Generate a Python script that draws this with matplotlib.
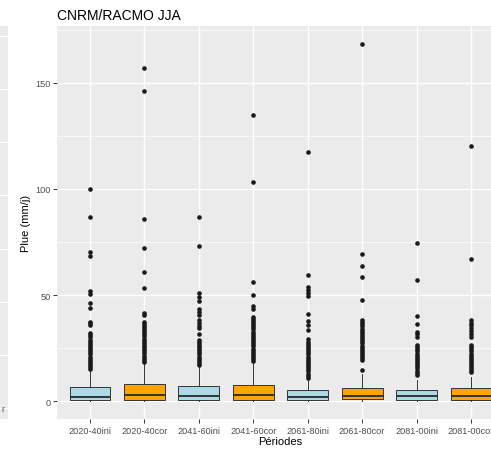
import matplotlib.pyplot as plt
import numpy as np

plt.rcParams['font.family'] = ['Liberation Sans', 'DejaVu Sans']

# périodes et couleurs (ini = bleu clair, cor = orange)
periodes = ['2020-40ini', '2020-40cor', '2041-60ini', '2041-60cor',
            '2061-80ini', '2061-80cor', '2081-00ini', '2081-00cor']
couleurs = ['#ADD8E6', '#FFA500', '#ADD8E6', '#FFA500',
            '#ADD8E6', '#FFA500', '#ADD8E6', '#FFA500']

# statistiques des boites [mm/j]
q1 = [0.5, 0.5, 0.6, 0.6, 0.6, 0.8, 0.6, 0.6]
mediane = [2.0, 3.0, 2.2, 3.1, 2.0, 2.3, 2.2, 2.2]
q3 = [6.8, 8.1, 7.0, 7.8, 5.4, 6.3, 5.4, 6.0]
moust_bas = [0, 0, 0, 0, 0, 0, 0, 0]
moust_haut = [14.6, 17.8, 16.4, 17.8, 10.1, 13.0, 10.1, 11.5]

# valeurs extremes
extremes = [
    [99.9, 86.9, 70.3, 68.5, 51.9, 50.5, 46.0, 43.7, 37.4, 36.6, 35.8,
     31.9, 31, 30, 29, 28, 27, 26, 25, 24, 23, 22, 21, 20, 19, 18, 17, 16, 15.2],
    [156.9, 145.9, 86.0, 72.0, 61.0, 53.2, 41.6, 40.5,
     37.4, 36.5, 35.5, 34.5, 33.5, 32.5, 31.5, 30.5, 29.5, 28.5, 27.5, 26.5,
     25.5, 24.5, 23.5, 22.5, 21.5, 20.5, 19.5, 18.5],
    [86.9, 73.0, 50.8, 49.2, 47.1, 43.4, 42.0, 40.6, 38.2, 37.0, 35.6, 34.4,
     31.4, 29, 28, 27, 26, 25, 24, 23, 22, 21, 20, 19, 18, 17],
    [134.9, 103.2, 56.0, 50.2, 44.8, 43.3,
     39.8, 38.8, 37.8, 36.8, 35.8, 34.8, 33.8, 32.8, 31.8, 30.8, 29.8, 28.8,
     27.8, 26.8, 25.8, 24.8, 23.8, 22.8, 21.8, 20.8, 19.8, 18.8],
    [117.3, 59.2, 53.7, 52.2, 50.8, 49.4, 41.1, 37.6, 36.0, 33.3,
     29.1, 28, 27, 26, 25, 24, 23, 22, 21, 20, 19, 18, 17, 16, 15, 14, 13, 12, 11],
    [168.3, 69.2, 63.8, 58.7, 47.7,
     38.2, 37.2, 36.2, 35.2, 34.2, 33.2, 32.2, 31.2, 30.2, 29.2, 28.2, 27.2,
     26.2, 25.2, 24.2, 23.2, 22.2, 21.2, 20.2, 19.3, 14.9],
    [74.4, 57.1, 40.1, 36.3, 32.7, 31.5, 30.3,
     26.4, 25.4, 24.4, 23.4, 22.4, 21.4, 20.4, 19.4, 18.4, 17.4, 16.4, 15.4,
     14.4, 13.4, 12.3],
    [120.4, 66.8, 38.2, 37.0, 35.8, 34.5, 33.0, 31.5, 30.3,
     26.4, 25.4, 24.4, 23.4, 22.4, 21.4, 20.4, 19.4, 18.4, 17.4, 16.4, 15.4,
     14.6, 13.8],
]

W, H = 491, 452
fig = plt.figure(figsize=(W / 100, H / 100), dpi=100)

# bout du panneau voisin (coupé à gauche)
axg = fig.add_axes([0, (H - 420) / H, 7.5 / W, (420 - 27) / H])
axg.set_facecolor('#EBEBEB')
axg.set_xlim(0, 1)
axg.set_ylim(420, 27)
for yy in [37, 90, 143, 196, 250, 303, 356, 409]:
    axg.axhline(yy, color='white', lw=0.8)
axg.set_xticks([])
axg.set_yticks([])
for s in axg.spines.values():
    s.set_visible(False)

# panneau principal (déborde à droite comme dans l'original)
x0, x1 = 57.4, 503.6
ax = fig.add_axes([x0 / W, (H - 420) / H, (x1 - x0) / W, (420 - 27) / H])
ax.set_facecolor('#EBEBEB')

stats = []
for i in range(len(periodes)):
    stats.append(dict(q1=q1[i], med=mediane[i], q3=q3[i],
                      whislo=moust_bas[i], whishi=moust_haut[i],
                      fliers=extremes[i]))

pos = np.arange(1, len(periodes) + 1)
bp = ax.bxp(stats, positions=pos, widths=0.75, patch_artist=True,
            showcaps=False, zorder=3,
            boxprops=dict(edgecolor='#333333', linewidth=0.7),
            medianprops=dict(color='#333333', linewidth=1.4),
            whiskerprops=dict(color='#333333', linewidth=0.7),
            flierprops=dict(marker='o', markersize=2.3, markerfacecolor='#1a1a1a',
                            markeredgecolor='#1a1a1a', linestyle='none'))
for patch, c in zip(bp['boxes'], couleurs):
    patch.set_facecolor(c)

ax.set_xlim(0.4, 8.6)
ax.set_ylim(-8.4, 176.7)
ax.set_xticks(pos)
ax.set_xticklabels(periodes)
ax.set_yticks([0, 50, 100, 150])
ax.set_yticks([25, 75, 125, 175], minor=True)
ax.grid(True, which='major', color='white', lw=1.0, zorder=0)
ax.grid(True, which='minor', axis='y', color='white', lw=0.5, zorder=0)
ax.set_axisbelow(True)
for s in ax.spines.values():
    s.set_visible(False)
ax.tick_params(axis='both', which='major', length=3, width=0.7, color='#333333',
               labelsize=6.6, labelcolor='#4D4D4D', pad=2)
ax.tick_params(axis='y', which='minor', length=0)

ax.set_xlabel('Périodes', fontsize=8, labelpad=1)
ax.set_ylabel('Plue (mm/j)', fontsize=8, labelpad=3)
ax.set_title('CNRM/RACMO JJA', loc='left', fontsize=10, pad=5)

fig.text(1 / W, 1 - 410 / H, 'r', fontsize=6.3, color='#4D4D4D', va='center')

fig.savefig('out.png', dpi=100)
